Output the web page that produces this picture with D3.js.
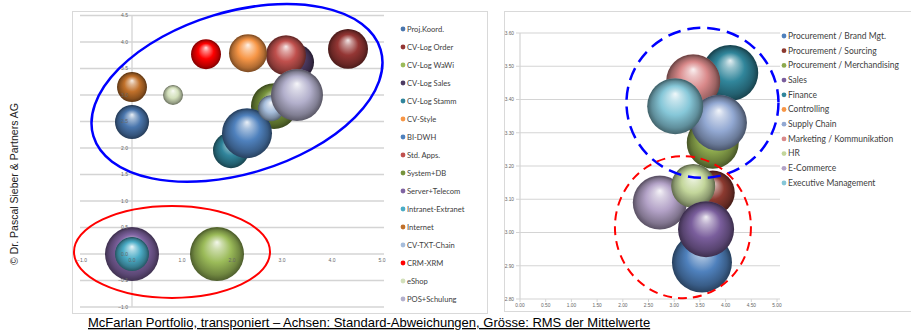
<!DOCTYPE html>
<html><head><meta charset="utf-8">
<script src="https://cdn.jsdelivr.net/npm/d3@7"></script>
<style>
html,body{margin:0;padding:0;background:#fff;}
svg{display:block;}
</style></head>
<body>
<svg id="c" width="911" height="332"></svg>
<script>
// ---------- LEFT CHART DATA ----------
const leftSeries = ["Proj.Koord.","CV-Log Order","CV-Log WaWi","CV-Log Sales","CV-Log Stamm","CV-Style","BI-DWH","Std. Apps.","System+DB","Server+Telecom","Intranet-Extranet","Internet","CV-TXT-Chain","CRM-XRM","eShop","POS+Schulung"];
const leftX    = [0.00, 4.32, 1.70, 3.28, 1.98, 2.32, 2.30, 3.08, 2.84, 0.00, 0.00, 0.00, 2.78, 1.48, 0.82, 3.30];
const leftY    = [2.49, 3.87, 0.00, 3.62, 1.96, 3.79, 2.28, 3.75, 2.79, 0.00, 0.00, 3.15, 2.75, 3.77, 3.00, 3.00];
const leftSize = [1.59, 2.19, 4.00, 1.78, 1.78, 1.98, 3.43, 2.19, 2.90, 4.00, 1.59, 1.23, 0.93, 1.23, 0.55, 3.71];
const leftColors = ["#4A76AD","#943634","#9BBB59","#4D3B62","#31859C","#F79646","#4F81BD","#C0504D","#77933C","#8064A2","#4BACC6","#C0702A","#A6BDDB","#FF0000","#D3E0BB","#B3B0CC"];
const leftDrawOrder = [3,7,1,13,5,11,14,0,4,8,6,12,15,9,10,2];
const leftXTicks = [-1,0,1,2,3,4,5];
const leftYTicks = [-1.0,-0.5,0.0,0.5,1.0,1.5,2.0,2.5,3.0,3.5,4.0,4.5];

// ---------- RIGHT CHART DATA ----------
const rightSeries = ["Procurement / Brand Mgt.","Procurement / Sourcing","Procurement / Merchandising","Sales","Finance","Controlling","Supply Chain","Marketing / Kommunikation","HR","E-Commerce","Executive Management"];
const rightX    = [3.54, 3.75, 3.75, 3.62, 4.09, 3.55, 3.87, 3.37, 3.37, 2.72, 3.02];
const rightY    = [2.91, 3.12, 3.27, 3.01, 3.48, 3.33, 3.33, 3.455, 3.14, 3.09, 3.38];
const rightSize = [3.60, 1.94, 2.70, 3.14, 3.14, 0.90, 3.14, 2.92, 1.94, 2.92, 3.14];
const rightColors = ["#4F81BD","#8C3A30","#8EAA4E","#7A5E9C","#31869B","#F79646","#92A8D2","#D9898A","#C3D69B","#B3A2C7","#86C7D8"];
const rightDrawOrder = [5,1,4,2,7,6,10,9,8,0,3];
const rightXTicks = [0,0.5,1,1.5,2,2.5,3,3.5,4,4.5,5];
const rightYTicks = [2.8,2.9,3.0,3.1,3.2,3.3,3.4,3.5,3.6];

const caption = "McFarlan Portfolio, transponiert – Achsen: Standard-Abweichungen, Grösse: RMS der Mittelwerte";
const copyright = "© Dr. Pascal Sieber & Partners AG";

const svg = d3.select("#c");
const defs = svg.append("defs");

function sphereGrad(id, col){
  const w = t => d3.interpolateRgb(col, "#ffffff")(t);
  const k = t => d3.interpolateRgb(col, "#000000")(t);
  const g = defs.append("radialGradient").attr("id", id)
    .attr("cx","50%").attr("cy","52%").attr("r","52%").attr("fx","50%").attr("fy","28%");
  [[0, w(0.88)],[0.18, w(0.5)],[0.5, col],[0.8, k(0.28)],[0.95, k(0.5)],[1, k(0.3)]]
    .forEach(([o,c]) => g.append("stop").attr("offset", o).attr("stop-color", c));
  return `url(#${id})`;
}

// Panel frames
svg.append("rect").attr("x",72.5).attr("y",11.5).attr("width",415).attr("height",302)
  .attr("fill","none").attr("stroke","#d9d9d9");
svg.append("rect").attr("x",504.5).attr("y",11.5).attr("width",420).attr("height",300)
  .attr("fill","none").attr("stroke","#d9d9d9");

// ---------- LEFT CHART ----------
const lx = d3.scaleLinear().domain([-1,5]).range([82,382]);
const ly = d3.scaleLinear().domain([0,4.5]).range([254,15.5]);
const lr = d3.scaleSqrt().domain([0, d3.max(leftSize)]).range([0,27]);
const L = svg.append("g");
L.append("g").selectAll("line").data(leftYTicks).join("line")
  .attr("x1",80).attr("x2",384).attr("y1",d=>ly(d)).attr("y2",d=>ly(d))
  .attr("stroke","#d4d4d4").attr("stroke-width",1.3);
L.append("line").attr("x1",lx(0)).attr("x2",lx(0)).attr("y1",ly(4.5)).attr("y2",ly(-1))
  .attr("stroke","#d4d4d4").attr("stroke-width",1.3);
const lb = L.append("g");
leftDrawOrder.forEach(i => {
  lb.append("circle").attr("cx",lx(leftX[i])).attr("cy",ly(leftY[i])).attr("r",lr(leftSize[i]))
    .attr("fill", sphereGrad("lg"+i, leftColors[i]));
});
L.append("g").selectAll("text").data(leftYTicks).join("text")
  .attr("x",lx(0)-4).attr("y",d=>ly(d)+1.8).attr("text-anchor","end")
  .attr("font-family","Liberation Sans, Arial, sans-serif").attr("font-size",5).attr("fill","#666")
  .text(d=>d3.format(".1f")(d));
L.append("g").selectAll("text").data(leftXTicks).join("text")
  .attr("x",d=>lx(d)).attr("y",ly(0)+8).attr("text-anchor","middle")
  .attr("font-family","Liberation Sans, Arial, sans-serif").attr("font-size",5).attr("fill","#666")
  .text(d=>d3.format(".1f")(d));

// annotations left
L.append("ellipse").attr("cx",lx(2.1)).attr("cy",ly(3.04)).attr("rx",150).attr("ry",81)
  .attr("transform",`rotate(-16.8 ${lx(2.1)} ${ly(3.04)})`)
  .attr("fill","none").attr("stroke","#0000ff").attr("stroke-width",2.5);
L.append("ellipse").attr("cx",lx(0.8)).attr("cy",ly(0.04)).attr("rx",98).attr("ry",46)
  .attr("fill","none").attr("stroke","#ff0000").attr("stroke-width",2);

// left legend
const LL = svg.append("g").selectAll("g").data(leftSeries).join("g")
  .attr("transform",(d,i)=>`translate(403,${29+i*18})`);
LL.append("circle").attr("r",2.4).attr("fill",(d,i)=>leftColors[i]);
LL.append("text").attr("x",4).attr("y",2.6).attr("font-family","Lato, sans-serif")
  .attr("font-size",7.6).attr("fill","#404040").text(d=>d);

// ---------- RIGHT CHART ----------
const rx = d3.scaleLinear().domain([0,5]).range([520,777]);
const ry = d3.scaleLinear().domain([2.8,3.6]).range([299,33]);
const rr = d3.scaleSqrt().domain([0, d3.max(rightSize)]).range([0,30]);
const R = svg.append("g");
R.append("g").selectAll("line").data(rightYTicks).join("line")
  .attr("x1",516).attr("x2",780).attr("y1",d=>ry(d)).attr("y2",d=>ry(d))
  .attr("stroke","#d4d4d4").attr("stroke-width",1.2);
R.append("line").attr("x1",rx(0)).attr("x2",rx(0)).attr("y1",ry(3.6)).attr("y2",ry(2.8))
  .attr("stroke","#d4d4d4").attr("stroke-width",1.2);
R.append("g").selectAll("line").data(rightXTicks).join("line")
  .attr("x1",d=>rx(d)).attr("x2",d=>rx(d)).attr("y1",ry(2.8)).attr("y2",ry(2.8)+3)
  .attr("stroke","#d4d4d4");
const rb = R.append("g");
rightDrawOrder.forEach(i => {
  rb.append("circle").attr("cx",rx(rightX[i])).attr("cy",ry(rightY[i])).attr("r",rr(rightSize[i]))
    .attr("fill", sphereGrad("rg"+i, rightColors[i]));
});
R.append("g").selectAll("text").data(rightYTicks).join("text")
  .attr("x",rx(0)-6).attr("y",d=>ry(d)+1.8).attr("text-anchor","end")
  .attr("font-family","Liberation Sans, Arial, sans-serif").attr("font-size",4.8).attr("fill","#666")
  .text(d=>d3.format(".2f")(d));
R.append("g").selectAll("text").data(rightXTicks).join("text")
  .attr("x",d=>rx(d)).attr("y",ry(2.8)+7.5).attr("text-anchor","middle")
  .attr("font-family","Liberation Sans, Arial, sans-serif").attr("font-size",4.8).attr("fill","#666")
  .text(d=>d3.format(".2f")(d));

// annotations right
R.append("ellipse").attr("cx",rx(3.55)).attr("cy",ry(3.39)).attr("rx",76).attr("ry",75)
  .attr("fill","none").attr("stroke","#0000ff").attr("stroke-width",2.5).attr("stroke-dasharray","13,7");
R.append("ellipse").attr("cx",rx(3.17)).attr("cy",ry(3.016)).attr("rx",68).attr("ry",71)
  .attr("fill","none").attr("stroke","#ff0000").attr("stroke-width",2).attr("stroke-dasharray","9,6");

// right legend
const RL = svg.append("g").selectAll("g").data(rightSeries).join("g")
  .attr("transform",(d,i)=>`translate(784,${36+i*14.7})`);
RL.append("circle").attr("r",2.4).attr("fill",(d,i)=>rightColors[i]);
RL.append("text").attr("x",4).attr("y",2.8).attr("font-family","Lato, sans-serif")
  .attr("font-size",8.5).attr("fill","#404040").text(d=>d);

// caption & copyright
svg.append("text").attr("x",88).attr("y",327).attr("font-family","Liberation Sans, Arial, sans-serif")
  .attr("font-size",13).attr("fill","#000").attr("text-decoration","underline").text(caption);
svg.append("text").attr("transform","translate(18,184) rotate(-90)").attr("text-anchor","middle")
  .attr("font-family","Liberation Sans, Arial, sans-serif").attr("font-size",10.5).attr("fill","#222")
  .text(copyright);
</script>
</body></html>
